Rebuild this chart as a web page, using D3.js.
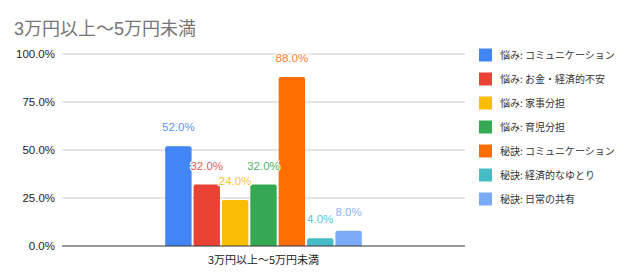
<!DOCTYPE html>
<html lang="ja">
<head>
<meta charset="UTF-8">
<script src="https://d3js.org/d3.v7.min.js"></script>
<style>
  body { margin: 0; background: #fff; font-family: "Noto Sans CJK JP", Arial, sans-serif; }
</style>
</head>
<body>
<div id="chart"></div>
<script>
// data
const category = "3万円以上〜5万円未満";
const seriesNames = [
  "悩み: コミュニケーション",
  "悩み: お金・経済的不安",
  "悩み: 家事分担",
  "悩み: 育児分担",
  "秘訣: コミュニケーション",
  "秘訣: 経済的なゆとり",
  "秘訣: 日常の共有"
];
const seriesValues = [0.52, 0.32, 0.24, 0.32, 0.88, 0.04, 0.08];
const seriesColors = ["#4285f4", "#ea4335", "#fbbc04", "#34a853", "#ff6d01", "#46bdc6", "#7baaf7"];
const yTicks = [0, 0.25, 0.5, 0.75, 1.0];

const W = 635, H = 280;
const plot = {left: 62, right: 465, top: 54, bottom: 246};

const svg = d3.select("#chart").append("svg")
  .attr("width", W).attr("height", H);

svg.append("text")
  .attr("x", 14).attr("y", 35)
  .attr("fill", "#757575")
  .attr("font-size", 18)
  .attr("font-family", "Arial, 'Noto Sans CJK JP', sans-serif")
  .text("3万円以上〜5万円未満");

const y = d3.scaleLinear().domain([0, 1]).range([plot.bottom, plot.top]);
const x0 = d3.scaleBand().domain([category]).range([plot.left, plot.right]).paddingInner(0).paddingOuter(0.525);
const x1 = d3.scaleBand().domain(seriesNames).range([0, x0.bandwidth()]).paddingInner(0.07);

// grid
svg.append("g")
  .selectAll("line").data(yTicks.filter(d => d > 0)).join("line")
  .attr("x1", plot.left).attr("x2", plot.right)
  .attr("y1", d => y(d)).attr("y2", d => y(d))
  .attr("stroke", "#cccccc").attr("stroke-width", 1);

// y labels
svg.append("g")
  .selectAll("text").data(yTicks).join("text")
  .attr("x", 55).attr("y", d => y(d) + 4)
  .attr("text-anchor", "end")
  .attr("font-size", 11.5)
  .attr("font-family", "Arial, sans-serif")
  .attr("fill", "#222")
  .text(d => d3.format(".1%")(d));

// bars
const g = svg.append("g").attr("transform", `translate(${x0(category)},0)`);
const data = seriesNames.map((n, i) => ({name: n, value: seriesValues[i], color: seriesColors[i]}));

g.selectAll("path").data(data).join("path")
  .attr("fill", d => d.color)
  .attr("d", d => {
    const bx = x1(d.name), bw = x1.bandwidth(), top = y(d.value), bot = y(0), r = 2;
    return `M${bx},${bot}V${top + r}Q${bx},${top} ${bx + r},${top}H${bx + bw - r}Q${bx + bw},${top} ${bx + bw},${top + r}V${bot}Z`;
  });

g.selectAll("text").data(data).join("text")
  .attr("x", d => x1(d.name) + x1.bandwidth() / 2)
  .attr("y", d => y(d.value) - 15)
  .attr("text-anchor", "middle")
  .attr("font-size", 11.5)
  .attr("font-family", "Arial, sans-serif")
  .attr("fill", d => d.color)
  .attr("fill-opacity", 0.9)
  .attr("stroke", "#fff").attr("stroke-width", 2.5).attr("paint-order", "stroke")
  .text(d => d3.format(".1%")(d.value));

// baseline
svg.append("line")
  .attr("x1", plot.left).attr("x2", plot.right)
  .attr("y1", y(0)).attr("y2", y(0))
  .attr("stroke", "#333").attr("stroke-width", 1.2);

// x label
svg.append("text")
  .attr("x", x0(category) + x0.bandwidth() / 2).attr("y", 264)
  .attr("text-anchor", "middle")
  .attr("font-size", 11)
  .attr("fill", "#222")
  .text(category);

// legend
const leg = svg.append("g");
const rows = leg.selectAll("g").data(data).join("g")
  .attr("transform", (d, i) => `translate(479,${55 + i * 24})`);
rows.append("rect").attr("x", 0).attr("y", -6.5).attr("width", 13).attr("height", 13).attr("fill", d => d.color);
rows.append("text").attr("x", 21).attr("y", 4)
  .attr("font-size", 10).attr("fill", "#333")
  .text(d => d.name);
</script>
</body>
</html>
